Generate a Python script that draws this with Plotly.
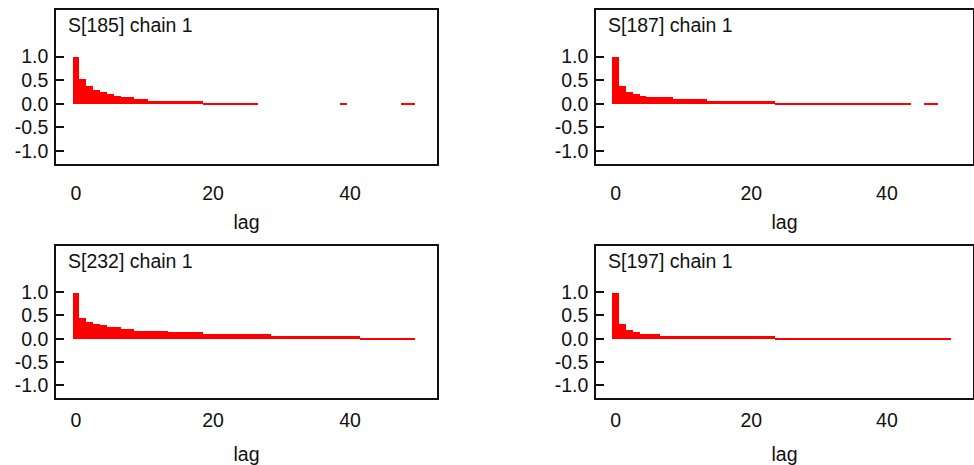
import plotly.graph_objects as go

W, H = 974, 465

lags = list(range(50))

titles = ["S[185] chain 1", "S[187] chain 1", "S[232] chain 1", "S[197] chain 1"]

acf_185 = ([1.0, 0.53, 0.38, 0.30, 0.26, 0.22, 0.18, 0.155, 0.155, 0.115, 0.115]
           + [0.075] * 8 + [0.035] * 8 + [0.0] * 12 + [0.035] + [0.0] * 8 + [0.035, 0.035])
acf_187 = ([1.0, 0.39, 0.26, 0.22, 0.18] + [0.155] * 4 + [0.115] * 5 + [0.075] * 10
           + [0.035] * 20 + [0.0, 0.0] + [0.035, 0.035] + [0.0, 0.0])
acf_232 = ([1.0, 0.46, 0.37, 0.33, 0.30, 0.27, 0.27, 0.22, 0.22] + [0.18] * 5 + [0.16] * 5
           + [0.12] * 10 + [0.078] * 13 + [0.036] * 8)
acf_197 = ([1.0, 0.33, 0.19, 0.16] + [0.12] * 3 + [0.077] * 17 + [0.035] * 26)

series = [acf_185, acf_187, acf_232, acf_197]

x_ticks = [0, 20, 40]
y_ticks = [-1.0, -0.5, 0.0, 0.5, 1.0]
y_ticktext = ["-1.0", "-0.5", "0.0", "0.5", "1.0"]

FONT = "Liberation Sans, Arial, sans-serif"
FS = 19.5

# panel frames in pixels: (left, right, top, bottom, x-label standoff, title standoff)
frames = [
    (56, 437, 9.5, 163.5, 11, 13),
    (596, 973, 9.5, 163.5, 11, 13),
    (56, 437, 245.5, 398, 4, 17),
    (596, 973, 245.5, 398, 4, 17),
]

fig = go.Figure()
layout = dict(
    width=W, height=H, margin=dict(l=0, r=0, t=0, b=0),
    paper_bgcolor="white", plot_bgcolor="white", showlegend=False,
    bargap=0, font=dict(family=FONT, size=FS, color="#111"),
)
annotations = []
for i, (vals, title, fr) in enumerate(zip(series, titles, frames)):
    n = i + 1
    xa = "x" if n == 1 else f"x{n}"
    ya = "y" if n == 1 else f"y{n}"
    fig.add_trace(go.Bar(x=lags, y=vals, width=1.0, xaxis=xa, yaxis=ya,
                         marker=dict(color="#FF0000", line=dict(width=0))))
    l, r, t, b, xso, tso = fr
    xkey = "xaxis" if n == 1 else f"xaxis{n}"
    ykey = "yaxis" if n == 1 else f"yaxis{n}"
    layout[xkey] = dict(
        domain=[l / W, r / W], anchor=ya, range=[-2.92, 52.7],
        tickvals=x_ticks, ticks="", showgrid=False, zeroline=False,
        showline=True, mirror=True, linecolor="#111", linewidth=1.6,
        ticklabelstandoff=xso, tickfont=dict(size=FS),
        title=dict(text="lag", standoff=tso, font=dict(size=FS)),
    )
    layout[ykey] = dict(
        domain=[1 - b / H, 1 - t / H], anchor=xa, range=[-1.27, 2.0],
        tickvals=y_ticks, ticktext=y_ticktext, ticks="inside", ticklen=8,
        tickwidth=1.6, tickcolor="#111", showgrid=False, zeroline=False,
        showline=True, mirror=True, linecolor="#111", linewidth=1.6,
        ticklabelstandoff=2, tickfont=dict(size=FS),
    )
    annotations.append(dict(
        text=title, xref="paper", yref="paper", x=(l + 10) / W, y=1 - (t + 15.5) / H,
        xanchor="left", yanchor="middle", showarrow=False, font=dict(size=FS),
    ))
layout["annotations"] = annotations
fig.update_layout(**layout)
fig.write_html("out.html")
